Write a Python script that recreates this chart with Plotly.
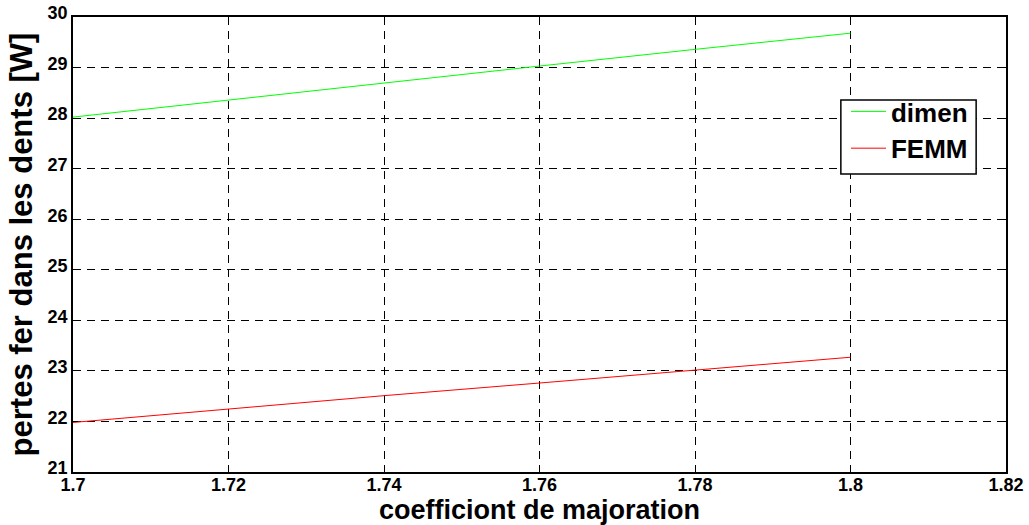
import plotly.graph_objects as go

x_vals = [1.70, 1.72, 1.74, 1.76, 1.78, 1.80]
dimen = [28.02, 28.36, 28.70, 29.03, 29.36, 29.68]
femm = [21.98, 22.25, 22.51, 22.76, 23.02, 23.27]
x_ticks = [1.7, 1.72, 1.74, 1.76, 1.78, 1.8, 1.82]
x_tick_text = ["1.7", "1.72", "1.74", "1.76", "1.78", "1.8", "1.82"]
y_ticks = [21, 22, 23, 24, 25, 26, 27, 28, 29, 30]

fig = go.Figure()
fig.add_trace(go.Scatter(x=x_vals, y=dimen, mode="lines", name="dimen",
                         line=dict(color="#00ff00", width=1)))
fig.add_trace(go.Scatter(x=x_vals, y=femm, mode="lines", name="FEMM",
                         line=dict(color="#ff0000", width=1)))

font_family = "Liberation Sans, Arial, sans-serif"
axis_common = dict(
    showline=True, linecolor="black", linewidth=1.5, mirror="ticks",
    ticks="inside", ticklen=5, tickcolor="black",
    showgrid=True, gridcolor="black", griddash="8px,6px", gridwidth=1,
    zeroline=False, automargin=False,
    tickfont=dict(family=font_family, size=18, color="black", weight="bold"),
)

# legend frame (pixel box 841-976 x, 100-174 y) in paper coords
fig.add_shape(type="rect", xref="paper", yref="paper",
              x0=0.823, x1=0.968, y0=0.655, y1=0.8176,
              line=dict(color="black", width=1.5), fillcolor="white", layer="above")

fig.update_layout(
    width=1029, height=525,
    margin=dict(l=73, r=23, t=17, b=53),
    paper_bgcolor="white", plot_bgcolor="white",
    showlegend=True,
    legend=dict(x=0.8285, y=0.844, xanchor="left", yanchor="top",
                bgcolor="rgba(0,0,0,0)", borderwidth=0,
                font=dict(family=font_family, size=26, color="black", weight="bold"),
                itemwidth=35, tracegroupgap=0),
    xaxis=dict(range=[1.7, 1.82], tickvals=x_ticks, ticktext=x_tick_text,
               title=dict(text="coefficiont de majoration", standoff=2,
                          font=dict(family=font_family, size=27, color="black", weight="bold")),
               **axis_common),
    yaxis=dict(range=[21, 30], tickvals=y_ticks,
               title=dict(text="pertes fer dans les dents [W]", standoff=6,
                          font=dict(family=font_family, size=31, color="black", weight="bold")),
               **axis_common),
)

try:
    fig.update_xaxes(ticklabelstandoff=-4)
except Exception:
    pass
try:
    fig.update_yaxes(ticklabelshift=-4)
except Exception:
    pass

fig.write_html("out.html")
